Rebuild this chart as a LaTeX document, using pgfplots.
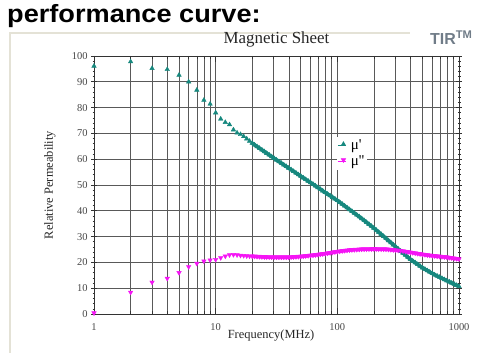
\documentclass[border=0pt]{standalone}
\usepackage{pgfplots}
\pgfplotsset{compat=1.18}
\usepackage{pgfplotstable}
\usepackage{fontspec}
\setmainfont{Liberation Serif}
\newfontfamily\arialf{Liberation Sans}
\definecolor{mteal}{RGB}{22,136,126}
\definecolor{mmag}{RGB}{245,20,245}
\definecolor{tirgray}{RGB}{112,124,136}
\definecolor{framec}{RGB}{228,226,214}
\definecolor{labgray}{RGB}{70,70,70}
\pgfplotstableread{
f mup mupp
1 96.1 0.4
2 97.8 8.4
3 95.2 12.3
4 94.8 13.8
5 92.6 16.0
6 90.0 18.3
7 86.8 19.6
8 82.9 20.5
9 81.4 20.9
10 78.0 21.1
11 75.6 21.8
12 74.3 22.4
13 73.4 22.9
14 71.4 23.0
15 70.2 22.9
16 69.6 22.7
17 68.8 22.6
18 67.9 22.5
19 67.0 22.45
}\sparsetable
\pgfplotstableread{
f mup mupp
19.95 66.2 22.4
20.89 65.55 22.34
21.88 64.9 22.28
22.91 64.25 22.22
23.99 63.6 22.16
25.12 62.95 22.1
26.30 62.3 22.08
27.54 61.65 22.06
28.84 61.0 22.04
30.20 60.35 22.02
31.62 59.7 22.0
33.11 59.07 22.0
34.67 58.44 22.0
36.31 57.81 22.0
38.02 57.18 22.0
39.81 56.55 22.0
41.69 55.92 22.06
43.65 55.29 22.12
45.71 54.66 22.18
47.86 54.03 22.24
50.12 53.4 22.3
52.48 52.78 22.4
54.95 52.16 22.5
57.54 51.54 22.6
60.26 50.92 22.7
63.10 50.3 22.8
66.07 49.66 22.92
69.18 49.02 23.04
72.44 48.38 23.16
75.86 47.74 23.28
79.43 47.1 23.4
83.18 46.48 23.56
87.10 45.86 23.72
91.20 45.24 23.88
95.50 44.62 24.04
100.0 44.0 24.2
104.7 43.3 24.32
109.6 42.6 24.44
114.8 41.9 24.56
120.2 41.2 24.68
125.9 40.5 24.8
131.8 39.8 24.86
138.0 39.1 24.92
144.5 38.4 24.98
151.4 37.7 25.04
158.5 37.0 25.1
166.0 36.26 25.12
173.8 35.52 25.14
182.0 34.78 25.16
190.5 34.04 25.18
199.5 33.3 25.2
208.9 32.5 25.18
218.8 31.7 25.16
229.1 30.9 25.14
239.9 30.1 25.12
251.2 29.3 25.1
263.0 28.48 25.02
275.4 27.66 24.94
288.4 26.84 24.86
302.0 26.02 24.78
316.2 25.2 24.7
331.1 24.4 24.54
346.7 23.6 24.38
363.1 22.8 24.22
380.2 22.0 24.06
398.1 21.2 23.9
416.9 20.54 23.74
436.5 19.88 23.58
457.1 19.22 23.42
478.6 18.56 23.26
501.2 17.9 23.1
524.8 17.36 22.98
549.5 16.82 22.86
575.4 16.28 22.74
602.6 15.74 22.62
631.0 15.2 22.5
660.7 14.74 22.4
691.8 14.28 22.3
724.4 13.82 22.2
758.6 13.36 22.1
794.3 12.9 22.0
831.8 12.46 21.86
871.0 12.02 21.72
912.0 11.58 21.58
955.0 11.14 21.44
1000 10.7 21.3
}\densetable
\begin{document}
\begin{tikzpicture}
\path[use as bounding box] (0,0) rectangle (483bp,353bp);
\draw[framec, line width=2bp] (10bp,0) -- (10bp,320bp) -- (410bp,320bp);
\node[anchor=base west, inner sep=0pt, font=\arialf\bfseries\fontsize{25}{28}\selectfont, xscale=1.09] at (7bp,330bp) {performance curve:};
\node[anchor=base west, inner sep=0pt, text=tirgray, font=\arialf\bfseries\fontsize{16}{18}\selectfont] at (430bp,308bp) {TIR\textsuperscript{TM}};
\begin{axis}[
  at={(94bp,39bp)}, anchor=south west,
  width=365bp, height=258bp, scale only axis,
  xmode=log, xmin=1, xmax=1000, ymin=0, ymax=100,
  xtick={1,10,100,1000}, xticklabels={1,10,100,1000},
  ytick={0,10,...,100}, minor y tick num=4,
  xmajorgrids, xminorgrids, ymajorgrids,
  major grid style={black!65, line width=0.6bp},
  minor grid style={black!65, line width=0.6bp},
  axis line style={black!80, line width=0.8bp},
  tick style={black!80, line width=0.6bp},
  ytick align=center,
  major tick length=6bp, minor tick length=3bp,
  /pgf/number format/assume math mode=true,
  ticklabel style={font=\fontsize{10.5}{12}\selectfont, text=labgray},
  xticklabel style={yshift=-6bp},
  title={Magnetic Sheet},
  title style={font=\fontsize{17}{20}\selectfont, text=black!85, yshift=-1bp},
  xlabel={Frequency(MHz)},
  xlabel style={at={(axis description cs:0.485,0)}, anchor=center, yshift=-22bp, font=\fontsize{12.5}{14}\selectfont, text=black!85},
  ylabel={Relative Permeability},
  ylabel style={at={(axis description cs:-0.1205,0.5)}, anchor=center, font=\fontsize{12.5}{14}\selectfont, text=black!85},
  legend style={at={(axis description cs:0.664,0.685)}, anchor=north west, draw=none, fill=white, inner sep=1bp, nodes={font=\fontsize{15}{16}\selectfont, inner sep=1.5bp}, row sep=1.5bp, column sep=3bp},
  legend cell align=left,
  legend image code/.code={\path (0cm,0cm) -- (0.3cm,0cm); \draw[#1] plot coordinates {(0.2cm,0.05cm)};},
]
\addplot[only marks, mark=triangle*, mark size=2.6bp, mteal] table[x=f, y=mup] {\sparsetable};
\addlegendentry{μ\textquotesingle}
\addplot[only marks, mark=triangle*, mark size=2.6bp, mark options={rotate=180}, mmag] table[x=f, y=mupp] {\sparsetable};
\addlegendentry{μ\textquotesingle\textquotesingle}
\addplot[forget plot, mteal, line width=3.6bp] table[x=f, y=mup] {\densetable};
\addplot[forget plot, only marks, mark=triangle*, mark size=2.6bp, mteal] table[x=f, y=mup] {\densetable};
\addplot[forget plot, mmag, line width=3.6bp] table[x=f, y=mupp] {\densetable};
\addplot[forget plot, only marks, mark=triangle*, mark size=2.6bp, mark options={rotate=180}, mmag] table[x=f, y=mupp] {\densetable};
\end{axis}
\end{tikzpicture}
\end{document}
